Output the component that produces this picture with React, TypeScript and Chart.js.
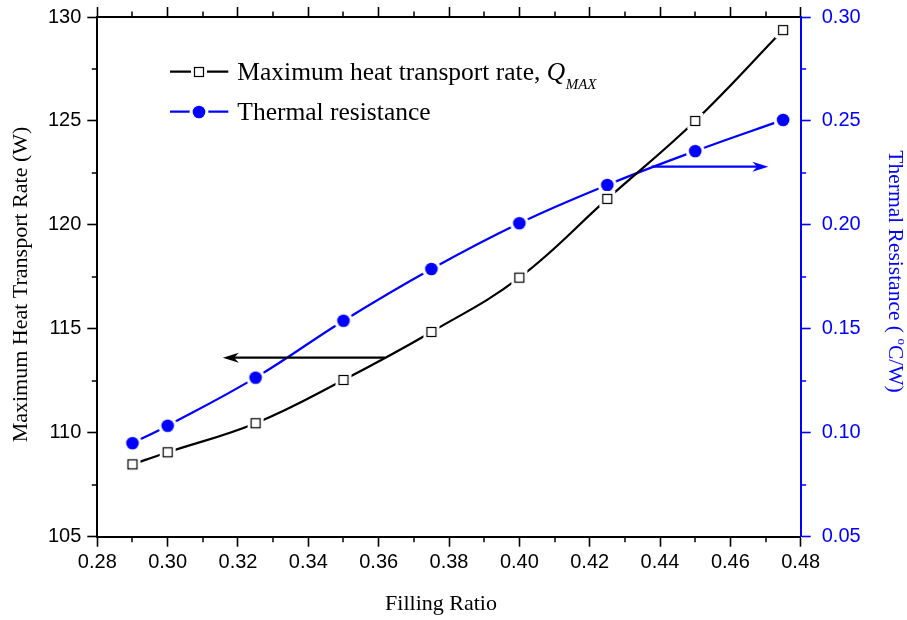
import React, { useEffect, useRef } from "react";
import { Chart, registerables } from "chart.js";

Chart.register(...registerables);

// ---- data ----
const fillingRatio = [0.29, 0.3, 0.325, 0.35, 0.375, 0.4, 0.425, 0.45, 0.475];
const qMax = [108.48, 109.06, 110.46, 112.54, 114.85, 117.46, 121.25, 125.0, 129.37];
const thermalResistance = [0.095, 0.1034, 0.1265, 0.1539, 0.1788, 0.2008, 0.2192, 0.2355, 0.2505];

const xTickValues = [0.28, 0.3, 0.32, 0.34, 0.36, 0.38, 0.4, 0.42, 0.44, 0.46, 0.48];
const leftTickValues = [105, 110, 115, 120, 125, 130];
const rightTickValues = [0.05, 0.1, 0.15, 0.2, 0.25, 0.3];

const legendLabels = ["Maximum heat transport rate, ", "Thermal resistance"];
const legendSubscriptMain = "Q";
const legendSubscript = "MAX";
const xTitle = "Filling Ratio";
const leftTitle = "Maximum Heat Transport Rate (W)";
const rightTitleParts = ["Thermal Resistance ( ", "o", "C/W)"];

// annotation arrows (data coordinates)
const arrowAxes = ["y", "y2"];
const arrowFromX = [0.3618, 0.4376];
const arrowToX = [0.3157, 0.4708];
const arrowY = [113.61, 0.228];
const arrowColors = ["#000000", "#0000ff"];

const BLUE = "#0000ff";
const SANS = "'Liberation Sans', Arial, sans-serif";
const SERIF = "'Liberation Serif', 'Times New Roman', serif";

const W = 907;
const H = 620;

function makeSquare(): HTMLCanvasElement {
  const c = document.createElement("canvas");
  c.width = 18;
  c.height = 18;
  const g = c.getContext("2d")!;
  g.fillStyle = "#ffffff";
  g.fillRect(1, 1, 16, 16);
  g.fillRect(4, 4, 10, 10);
  g.strokeStyle = "#000000";
  g.lineWidth = 1.2;
  g.strokeRect(4.5, 4.5, 9, 9);
  return c;
}

function makeCircle(): HTMLCanvasElement {
  const c = document.createElement("canvas");
  c.width = 20;
  c.height = 20;
  const g = c.getContext("2d")!;
  g.fillStyle = "#ffffff";
  g.beginPath();
  g.arc(10, 10, 9.5, 0, Math.PI * 2);
  g.fill();
  g.fillStyle = BLUE;
  g.beginPath();
  g.arc(10, 10, 6.3, 0, Math.PI * 2);
  g.fill();
  return c;
}

function mids(arr: number[]): number[] {
  const out: number[] = [];
  for (let i = 0; i < arr.length - 1; i++) out.push((arr[i] + arr[i + 1]) / 2);
  return out;
}

const minorTicksPlugin = {
  id: "minorTicks",
  afterDraw(chart: any) {
    const { ctx, chartArea: a, scales } = chart;
    ctx.save();
    ctx.lineWidth = 1.5;
    const len = 5.5;
    ctx.strokeStyle = "#000";
    for (const v of mids(xTickValues)) {
      const px = Math.round(scales.x.getPixelForValue(v));
      ctx.beginPath();
      ctx.moveTo(px, a.bottom);
      ctx.lineTo(px, a.bottom + len);
      ctx.moveTo(px, a.top);
      ctx.lineTo(px, a.top - len);
      ctx.stroke();
    }
    for (const v of mids(leftTickValues)) {
      const py = Math.round(scales.y.getPixelForValue(v));
      ctx.beginPath();
      ctx.moveTo(a.left, py);
      ctx.lineTo(a.left - len, py);
      ctx.stroke();
    }
    ctx.strokeStyle = BLUE;
    for (const v of mids(rightTickValues)) {
      const py = Math.round(scales.y2.getPixelForValue(v));
      ctx.beginPath();
      ctx.moveTo(a.right, py);
      ctx.lineTo(a.right + len, py);
      ctx.stroke();
    }
    ctx.restore();
  },
};

const arrowsPlugin = {
  id: "arrows",
  afterDatasetsDraw(chart: any) {
    const { ctx, scales } = chart;
    ctx.save();
    for (let i = 0; i < arrowAxes.length; i++) {
      const ys = scales[arrowAxes[i]];
      const x0 = scales.x.getPixelForValue(arrowFromX[i]);
      const x1 = scales.x.getPixelForValue(arrowToX[i]);
      const y = ys.getPixelForValue(arrowY[i]);
      const dir = Math.sign(x1 - x0);
      const headLen = 16;
      const headHalf = 5;
      ctx.strokeStyle = arrowColors[i];
      ctx.fillStyle = arrowColors[i];
      ctx.lineWidth = 2.2;
      ctx.beginPath();
      ctx.moveTo(x0, y);
      ctx.lineTo(x1 - dir * headLen * 0.6, y);
      ctx.stroke();
      ctx.beginPath();
      ctx.moveTo(x1, y);
      ctx.lineTo(x1 - dir * headLen, y - headHalf);
      ctx.lineTo(x1 - dir * headLen * 0.7, y);
      ctx.lineTo(x1 - dir * headLen, y + headHalf);
      ctx.closePath();
      ctx.fill();
    }
    ctx.restore();
  },
};

const titlesAndLegendPlugin = {
  id: "titlesLegend",
  afterDraw(chart: any) {
    const { ctx, chartArea: a } = chart;
    ctx.save();
    // axis titles
    ctx.font = `22px ${SERIF}`;
    ctx.textAlign = "center";
    ctx.textBaseline = "middle";
    ctx.fillStyle = "#000";
    ctx.fillText(xTitle, a.left + 343.7, a.bottom + 67.3);
    ctx.save();
    ctx.translate(21.5, a.top + 267.5);
    ctx.rotate(-Math.PI / 2);
    ctx.fillText(leftTitle, 0, 0);
    ctx.restore();

    // right title with superscript degree sign
    ctx.save();
    ctx.fillStyle = BLUE;
    ctx.translate(894.5, a.top + 254.5);
    ctx.rotate(Math.PI / 2);
    ctx.textAlign = "left";
    const mainFont = `21.5px ${SERIF}`;
    const supFont = `13px ${SERIF}`;
    ctx.font = mainFont;
    const w0 = ctx.measureText(rightTitleParts[0]).width;
    const w2 = ctx.measureText(rightTitleParts[2]).width;
    ctx.font = supFont;
    const w1 = ctx.measureText(rightTitleParts[1]).width;
    let cx = -(w0 + w1 + w2) / 2;
    ctx.font = mainFont;
    ctx.fillText(rightTitleParts[0], cx, 0);
    cx += w0;
    ctx.font = supFont;
    ctx.fillText(rightTitleParts[1], cx, -7);
    cx += w1;
    ctx.font = mainFont;
    ctx.fillText(rightTitleParts[2], cx, 0);
    ctx.restore();

    // legend
    const ds = chart.data.datasets;
    const x0 = a.left + 72.7;
    const x1 = a.left + 131;
    const tx = a.left + 140;
    const rows = [a.top + 54.7, a.top + 94.7];
    for (let i = 0; i < ds.length; i++) {
      const y = rows[i];
      ctx.strokeStyle = ds[i].borderColor;
      ctx.lineWidth = 2.2;
      ctx.beginPath();
      ctx.moveTo(x0, y);
      ctx.lineTo(x1, y);
      ctx.stroke();
      const img = ds[i].pointStyle as HTMLCanvasElement;
      ctx.drawImage(img, Math.round((x0 + x1) / 2 - img.width / 2), Math.round(y - img.height / 2));
      ctx.fillStyle = "#000";
      ctx.textAlign = "left";
      ctx.textBaseline = "alphabetic";
      ctx.font = `25.5px ${SERIF}`;
      ctx.fillText(ds[i].label, tx, y + 8);
      if (i === 0) {
        const w = ctx.measureText(ds[i].label).width;
        ctx.font = `italic 25.5px ${SERIF}`;
        ctx.fillText(legendSubscriptMain, tx + w, y + 8);
        const wq = ctx.measureText(legendSubscriptMain).width;
        ctx.font = `italic 15px ${SERIF}`;
        ctx.fillText(legendSubscript, tx + w + wq + 0.5, y + 17);
      }
    }
    ctx.restore();
  },
};

export default function App() {
  const ref = useRef<HTMLCanvasElement>(null);

  useEffect(() => {
    const canvas = ref.current;
    if (!canvas) return;
    const square = makeSquare();
    const circle = makeCircle();

    const axisGrid = (color: string) => ({
      drawOnChartArea: false,
      drawTicks: true,
      tickLength: 10,
      tickWidth: 1.6,
      tickColor: color,
    });

    const chart = new Chart(canvas, {
      type: "line",
      data: {
        datasets: [
          {
            label: legendLabels[0],
            data: fillingRatio.map((x, i) => ({ x, y: qMax[i] })),
            xAxisID: "x",
            yAxisID: "y",
            borderColor: "#000000",
            backgroundColor: "#000000",
            borderWidth: 2.2,
            pointStyle: square as any,
            pointRadius: 8,
            tension: 0.4,
            fill: false,
          },
          {
            label: legendLabels[1],
            data: fillingRatio.map((x, i) => ({ x, y: thermalResistance[i] })),
            xAxisID: "x",
            yAxisID: "y2",
            borderColor: BLUE,
            backgroundColor: BLUE,
            borderWidth: 2.2,
            pointStyle: circle as any,
            pointRadius: 8,
            tension: 0.4,
            fill: false,
          },
        ],
      },
      options: {
        animation: false,
        responsive: false,
        events: [],
        layout: { padding: 0 },
        plugins: {
          legend: { display: false },
          title: { display: false },
          tooltip: { enabled: false },
        },
        scales: {
          x: {
            type: "linear",
            position: "bottom",
            min: 0.28,
            max: 0.48,
            afterBuildTicks: (s: any) => {
              s.ticks = xTickValues.map((v) => ({ value: v }));
            },
            afterFit: (s: any) => {
              s.height = 83.3;
              s.paddingLeft = 0;
              s.paddingRight = 0;
            },
            ticks: {
              callback: (v: any) => Number(v).toFixed(2),
              font: { family: SANS, size: 20 },
              color: "#000",
              padding: 4,
              maxRotation: 0,
              autoSkip: false,
            },
            grid: axisGrid("#000"),
            border: { display: true, color: "#000", width: 2 },
          },
          x2: {
            type: "linear",
            position: "top",
            display: true,
            min: 0.28,
            max: 0.48,
            afterBuildTicks: (s: any) => {
              s.ticks = xTickValues.map((v) => ({ value: v }));
            },
            afterFit: (s: any) => {
              s.height = 17;
              s.paddingLeft = 0;
              s.paddingRight = 0;
            },
            ticks: { display: false },
            grid: axisGrid("#000"),
            border: { display: true, color: "#000", width: 2 },
          },
          y: {
            type: "linear",
            position: "left",
            min: 105,
            max: 130,
            afterBuildTicks: (s: any) => {
              s.ticks = leftTickValues.map((v) => ({ value: v }));
            },
            afterFit: (s: any) => {
              s.width = 97.3;
              s.paddingTop = 0;
              s.paddingBottom = 0;
            },
            ticks: {
              callback: (v: any) => String(v),
              font: { family: SANS, size: 20 },
              color: "#000",
              padding: 6,
            },
            grid: axisGrid("#000"),
            border: { display: true, color: "#000", width: 2 },
          },
          y2: {
            type: "linear",
            position: "right",
            min: 0.05,
            max: 0.3,
            afterBuildTicks: (s: any) => {
              s.ticks = rightTickValues.map((v) => ({ value: v }));
            },
            afterFit: (s: any) => {
              s.width = 106.3;
              s.paddingTop = 0;
              s.paddingBottom = 0;
            },
            ticks: {
              callback: (v: any) => Number(v).toFixed(2),
              font: { family: SANS, size: 20 },
              color: BLUE,
              padding: 11,
            },
            grid: axisGrid(BLUE),
            border: { display: true, color: BLUE, width: 2 },
          },
        },
      } as any,
      plugins: [minorTicksPlugin, arrowsPlugin, titlesAndLegendPlugin],
    });

    return () => chart.destroy();
  }, []);

  return (
    <div style={{ position: "fixed", left: 0, top: 0, width: W, height: H, background: "#fff" }}>
      <canvas ref={ref} width={W} height={H} style={{ display: "block" }} />
    </div>
  );
}
